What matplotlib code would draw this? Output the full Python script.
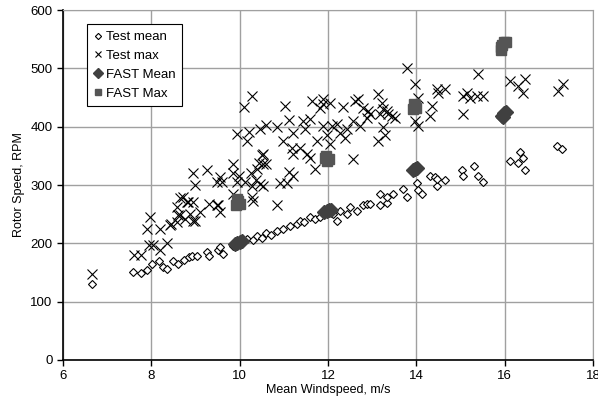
import matplotlib.pyplot as plt
import numpy as np

plt.rcParams['font.family'] = ['Liberation Sans', 'DejaVu Sans']

# Test mean (open diamonds)
mean_x = [6.66, 7.58, 7.77, 7.9, 8.02, 8.18, 8.27, 8.35, 8.49, 8.6, 8.74, 8.85, 8.92,
          9.03, 9.26, 9.3, 9.5, 9.62, 9.56, 9.85, 9.95, 10.05, 10.17, 10.3, 10.39, 10.5,
          10.6, 10.72, 10.84, 10.98, 11.14, 11.3, 11.37, 11.45, 11.59, 11.7, 11.82, 12.11,
          12.2, 12.27, 12.43, 12.5, 12.65, 12.8, 12.88, 12.95, 13.18, 13.18, 13.33, 13.33,
          13.48, 13.7, 13.79, 14.01, 14.04, 14.13, 14.31, 14.42, 14.47, 14.47, 14.65,
          15.03, 15.06, 15.3, 15.4, 15.5, 16.12, 16.3, 16.35, 16.41, 16.46, 17.18, 17.3]
mean_y = [131, 150, 149, 154, 165, 169, 159, 156, 169, 165, 172, 176, 178,
          179, 185, 179, 188, 182, 194, 195, 198, 203, 208, 206, 213, 210,
          217, 215, 221, 225, 230, 233, 239, 236, 245, 242, 245, 251,
          239, 256, 251, 262, 256, 266, 268, 268, 265, 285, 270, 279,
          285, 294, 279, 303, 291, 285, 316, 313, 299, 311, 309,
          325, 316, 333, 316, 306, 342, 337, 356, 347, 325, 367, 362]

# Test max (crosses)
max_x = [6.66, 7.6, 7.77, 7.9, 7.97, 7.95, 8.04, 8.2, 8.2, 8.35, 8.45, 8.58, 8.58, 8.72,
         8.6, 8.76, 8.42, 8.87, 8.98, 9.1, 8.83, 9.3, 9.5, 9.56, 10.3, 10.84, 8.94, 8.98,
         9.26, 9.55, 9.6, 9.48, 9.93, 10.1, 10.28, 10.22, 10.17, 10.47, 10.6, 10.84, 11.03,
         10.98, 11.12, 11.2, 11.18, 11.2, 11.12, 11.2, 11.07, 9.85, 9.85, 9.98, 9.94, 10.12,
         10.25, 10.37, 10.29, 10.5, 10.53, 10.53, 10.6, 10.44, 10.39, 9.85, 10.27, 10.47,
         10.53, 8.8, 8.94, 8.65, 9.48, 8.65, 8.94, 10.91,
         11.64, 11.89, 11.89, 12.05, 12.34, 12.6, 12.68, 12.79, 12.9, 13.13, 13.22, 13.25,
         13.36, 13.52, 13.79, 13.97, 14.04, 14.35, 14.31, 14.47, 14.5, 14.65, 15.06, 15.15,
         15.21, 15.37, 15.51, 15.4, 15.06, 16.12, 16.3, 16.41, 16.46, 17.21, 17.32, 13.97,
         14.04, 12.57, 13.13, 13.29, 13.25, 13.18, 11.43, 11.59, 11.48, 11.89, 12.1, 12.2,
         12.43, 12.57, 12.72, 12.88, 12.95, 12.27, 12.38, 11.98, 11.75, 12.05, 11.52, 11.59,
         11.7, 11.37, 13.33, 13.45, 11.82]
max_y = [147, 180, 180, 224, 246, 198, 198, 224, 188, 200, 234, 236, 262, 279,
         248, 241, 231, 251, 239, 253, 271, 268, 265, 253, 272, 265, 320, 300,
         325, 313, 305, 305, 388, 434, 453, 391, 376, 396, 403, 399, 436,
         376, 412, 390, 364, 354, 322, 316, 303, 336, 320, 316, 305, 305,
         320, 308, 299, 352, 354, 336, 336, 337, 328, 285, 279, 302,
         299, 271, 271, 277, 265, 248, 239, 304,
         444, 447, 439, 441, 434, 444, 447, 432, 427, 456, 441, 430,
         422, 415, 501, 474, 450, 436, 419, 465, 458, 465, 453, 457,
         450, 453, 453, 490, 422, 479, 470, 458, 482, 462, 473, 409,
         402, 344, 376, 385, 400, 422, 410, 414, 396, 402, 402, 405,
         396, 410, 402, 415, 422, 390, 381, 385, 376, 371, 354, 347,
         328, 364, 427, 419, 432]

# FAST Mean (filled diamonds)
fmean_x = [9.9, 9.95, 10.0, 10.05, 11.92, 11.97, 12.02, 12.07,
           13.93, 13.97, 14.02, 15.94, 15.98, 16.03, 15.96]
fmean_y = [199, 201, 202, 204, 254, 256, 257, 258,
           325, 328, 330, 419, 424, 426, 416]

# FAST Max (filled squares)
fmax_x = [9.92, 9.96, 10.0, 9.94, 11.94, 11.98, 12.02, 11.95,
          13.92, 13.96, 14.0, 13.94, 15.92, 15.95, 15.99, 16.03, 15.91]
fmax_y = [266, 272, 268, 276, 346, 341, 344, 350,
          430, 437, 432, 439, 531, 540, 545, 545, 536]

fig = plt.figure(figsize=(5.98, 4.04), dpi=100)
ax = fig.add_axes([0.1054, 0.109, 0.8862, 0.866])

ax.plot(mean_x, mean_y, 'D', ms=4.5, mfc='white', mec='black', mew=0.8, label='Test mean')
ax.plot(max_x, max_y, 'x', ms=7, color='black', mew=0.8, label='Test max')
ax.plot(fmean_x, fmean_y, 'D', ms=7, color='#404040', label='FAST Mean')
ax.plot(fmax_x, fmax_y, 's', ms=6.5, color='#555555', label='FAST Max')

ax.set_xlim(6, 18)
ax.set_ylim(0, 600)
ax.set_xticks(np.arange(6, 19, 2))
ax.set_yticks(np.arange(0, 601, 100))
ax.grid(True, color='#a0a0a0', linewidth=1)
ax.set_axisbelow(True)
ax.tick_params(direction='out', length=4, labelsize=9.5, width=1)
for s in ['top', 'right']:
    ax.spines[s].set_color('#a0a0a0')
for s in ['left', 'bottom']:
    ax.spines[s].set_color('black')
    ax.spines[s].set_linewidth(1.2)

ax.set_xlabel('Mean Windspeed, m/s', fontsize=9, labelpad=1)
ax.set_ylabel('Rotor Speed, RPM', fontsize=9, labelpad=4)

leg = ax.legend(loc='upper left', bbox_to_anchor=(0.033, 0.978), fontsize=9.5,
                fancybox=False, edgecolor='black', framealpha=1, handlelength=0.6,
                handletextpad=0.3, borderpad=0.5, labelspacing=0.5, markerscale=0.7)
leg.get_frame().set_linewidth(0.8)

plt.savefig('out.png', dpi=100)
